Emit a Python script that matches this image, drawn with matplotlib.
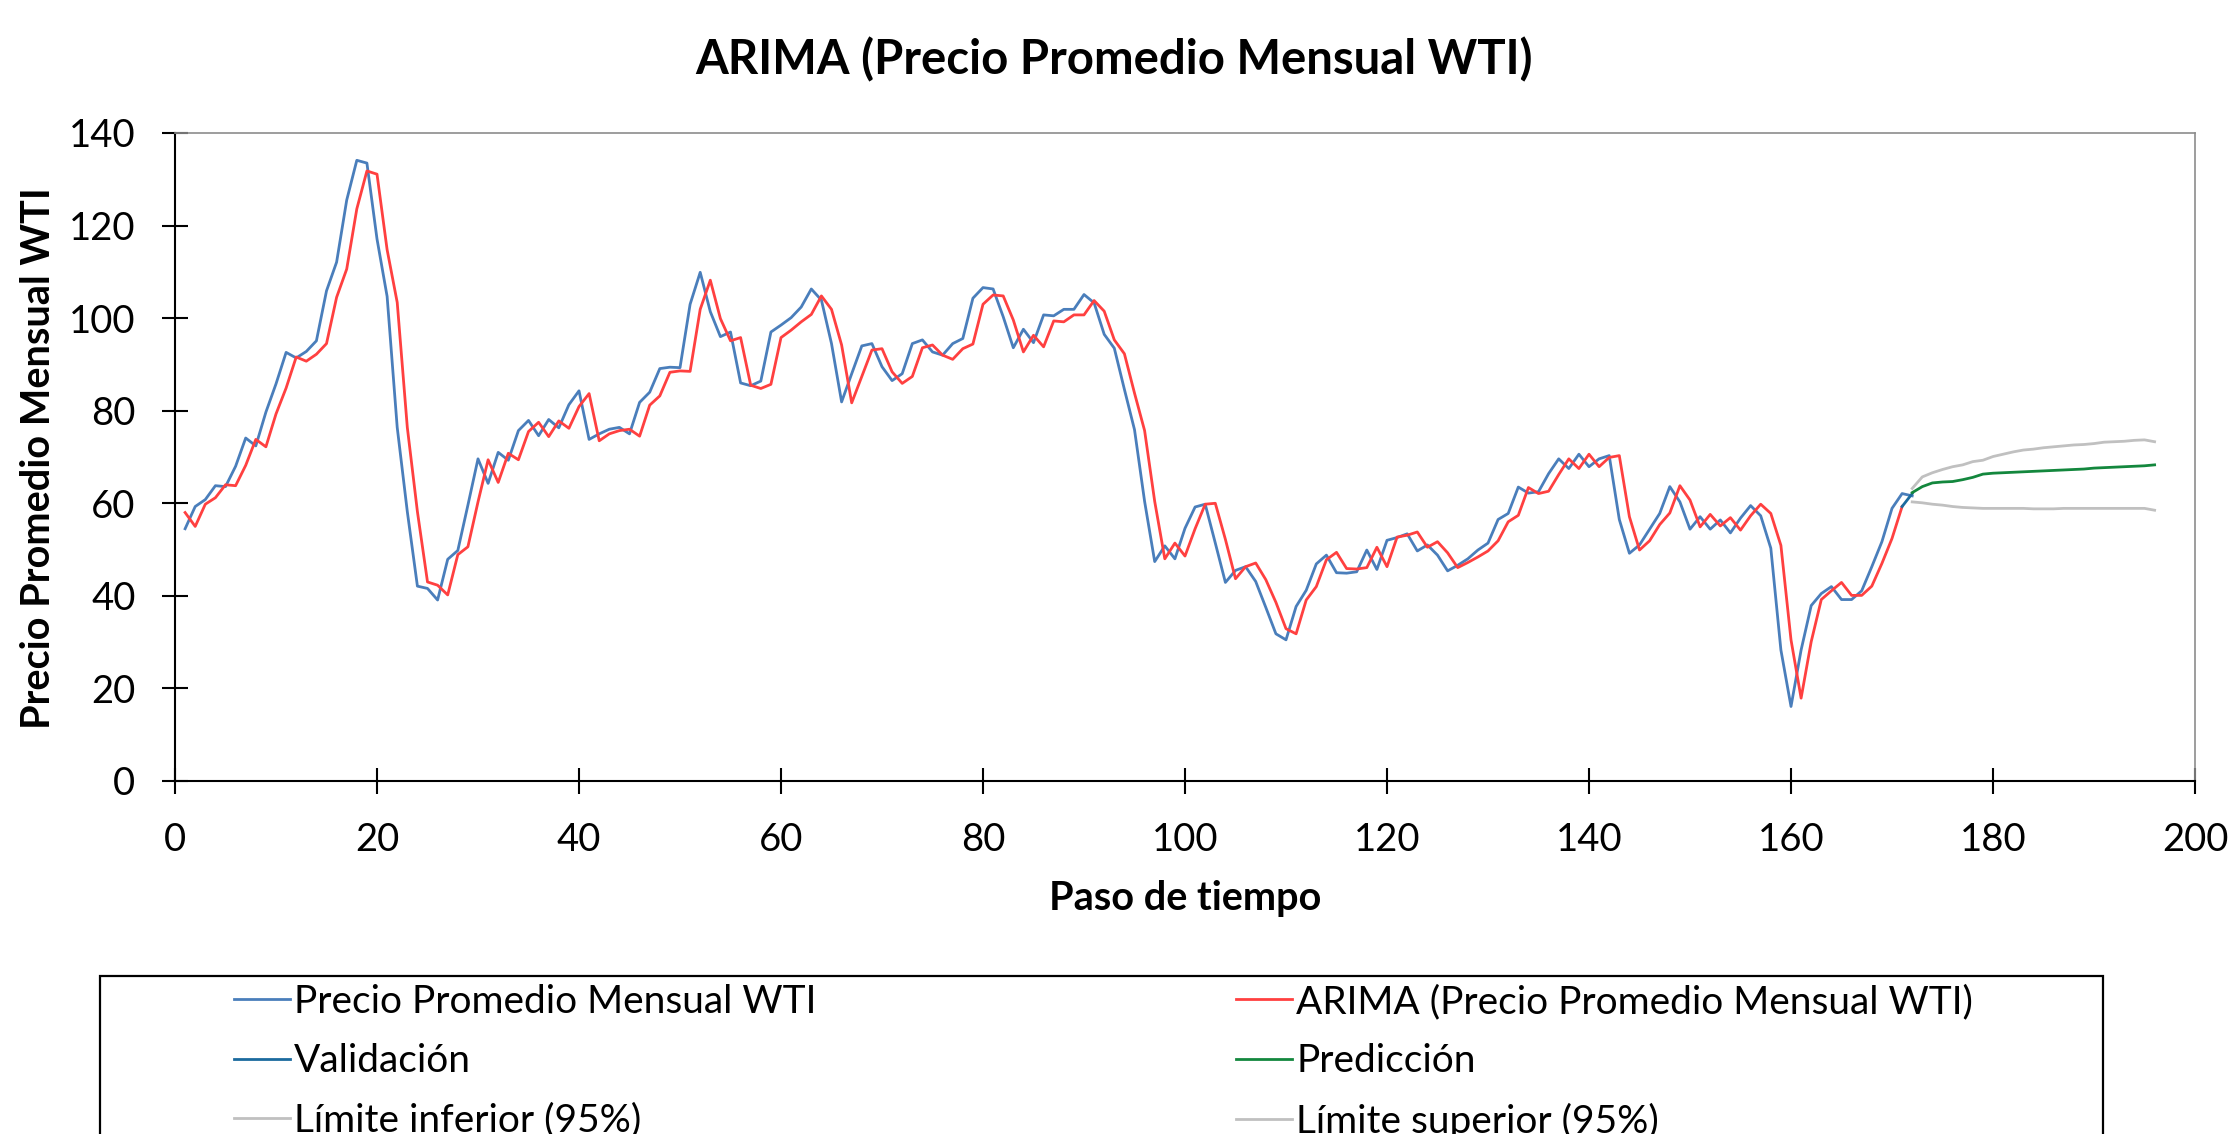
import numpy as np
import matplotlib.pyplot as plt
from matplotlib.patches import Rectangle

plt.rcParams['font.family'] = ['Lato', 'DejaVu Sans']

# ── datos ────────────────────────────────────────────────────────────
precio = [54.5, 59.3, 60.8, 63.8, 63.6, 68.0, 74.1, 72.4, 79.7, 85.8,
          92.6, 91.4, 92.8, 95.1, 105.9, 112.1, 125.5, 134.1, 133.5, 117.1,
          104.7, 76.4, 58.2, 42.1, 41.6, 39.1, 47.9, 49.8, 59.6, 69.6,
          64.3, 71.0, 69.3, 75.7, 77.9, 74.6, 78.1, 76.3, 81.3, 84.3,
          73.8, 75.0, 76.0, 76.4, 75.0, 81.8, 84.0, 89.1, 89.4, 89.3,
          103.0, 109.9, 101.4, 96.0, 97.0, 86.0, 85.4, 86.4, 97.0, 98.5,
          100.1, 102.4, 106.3, 103.9, 94.5, 81.9, 88.0, 94.0, 94.5, 89.5,
          86.5, 88.0, 94.5, 95.3, 92.7, 92.0, 94.5, 95.6, 104.3, 106.6,
          106.3, 100.3, 93.6, 97.6, 94.7, 100.7, 100.5, 101.9, 101.9, 105.1,
          103.3, 96.5, 93.5, 84.6, 75.9, 60.4, 47.4, 50.8, 48.0, 54.6,
          59.2, 59.8, 51.4, 42.9, 45.5, 46.3, 43.1, 37.5, 31.8, 30.5,
          37.7, 41.2, 46.9, 48.8, 45.0, 44.9, 45.2, 49.9, 45.7, 52.0,
          52.6, 53.4, 49.7, 51.0, 48.8, 45.4, 46.6, 48.0, 49.9, 51.4,
          56.5, 57.8, 63.5, 62.2, 62.5, 66.4, 69.6, 67.5, 70.6, 67.9,
          69.6, 70.3, 56.5, 49.2, 51.0, 54.4, 57.8, 63.6, 60.3, 54.4,
          57.1, 54.4, 56.4, 53.6, 56.8, 59.5, 57.3, 50.3, 28.3, 16.1,
          28.3, 37.9, 40.5, 42.0, 39.2, 39.2, 41.1, 46.3, 51.7, 58.9,
          62.1, 61.6]

arima = [58.0, 55.0, 59.8, 61.2, 64.0, 63.8, 68.2, 73.8, 72.2, 79.3,
         84.9, 91.6, 90.7, 92.2, 94.5, 104.5, 110.6, 123.6, 131.8, 131.1,
         114.8, 103.4, 76.4, 58.2, 43.0, 42.3, 40.2, 48.9, 50.6, 60.3,
         69.4, 64.5, 70.8, 69.4, 75.5, 77.5, 74.4, 77.8, 76.2, 80.9,
         83.7, 73.5, 75.0, 75.7, 76.0, 74.5, 81.2, 83.2, 88.3, 88.6,
         88.5, 101.9, 108.2, 99.9, 95.1, 95.8, 85.5, 84.8, 85.7, 95.8,
         97.4, 99.2, 100.8, 104.8, 101.9, 94.2, 81.7, 87.4, 93.1, 93.4,
         88.4, 85.9, 87.4, 93.6, 94.2, 92.0, 91.1, 93.4, 94.4, 103.0,
         105.0, 104.8, 99.6, 92.7, 96.3, 93.8, 99.4, 99.2, 100.7, 100.7,
         103.8, 101.5, 95.3, 92.3, 83.8, 75.7, 60.4, 48.0, 51.4, 48.6,
         54.5, 59.8, 60.0, 52.2, 43.7, 46.3, 47.1, 43.5, 38.6, 32.9,
         31.8, 39.1, 42.0, 47.8, 49.4, 45.9, 45.8, 46.1, 50.5, 46.3,
         52.7, 53.1, 53.8, 50.5, 51.7, 49.3, 46.1, 47.2, 48.4, 49.7,
         51.9, 56.0, 57.4, 63.4, 62.1, 62.6, 66.2, 69.6, 67.5, 70.6,
         67.9, 69.9, 70.3, 57.1, 49.9, 51.9, 55.4, 57.9, 63.8, 60.7,
         54.9, 57.6, 55.1, 56.9, 54.2, 57.3, 59.8, 57.8, 50.9, 30.5,
         17.9, 30.1, 39.2, 41.1, 42.9, 40.1, 40.1, 42.1, 47.0, 52.4,
         59.3]

validacion_x = [171, 172]
validacion = [59.3, 62.1]

pred_x = np.arange(172, 197)
prediccion = [62.3, 63.6, 64.4, 64.6, 64.7, 65.1, 65.6, 66.3, 66.5, 66.6,
              66.7, 66.8, 66.9, 67.0, 67.1, 67.2, 67.3, 67.4, 67.6, 67.7,
              67.8, 67.9, 68.0, 68.1, 68.3]
lim_inf = [60.3, 60.1, 59.8, 59.6, 59.3, 59.1, 59.0, 58.9, 58.9, 58.9,
           58.9, 58.9, 58.8, 58.8, 58.8, 58.9, 58.9, 58.9, 58.9, 58.9,
           58.9, 58.9, 58.9, 58.9, 58.5]
lim_sup = [63.2, 65.7, 66.6, 67.3, 67.9, 68.3, 69.0, 69.3, 70.1, 70.6,
           71.1, 71.5, 71.7, 72.0, 72.2, 72.4, 72.6, 72.7, 72.9, 73.2,
           73.3, 73.4, 73.6, 73.7, 73.3]

x_precio = np.arange(1, len(precio) + 1)
x_arima = np.arange(1, len(arima) + 1)

# ── figura ───────────────────────────────────────────────────────────
fig = plt.figure(figsize=(22.28, 11.34), dpi=100)
ax = fig.add_axes([0.07855, 0.31129, 0.90664, 0.57143])

lw = 2.0
l1, = ax.plot(x_precio, precio, color='#4A7EBB', lw=lw, label='Precio Promedio Mensual WTI')
l2, = ax.plot(x_arima, arima, color='#FF4040', lw=lw, label='ARIMA (Precio Promedio Mensual WTI)')
l3, = ax.plot(validacion_x, validacion, color='#1B6A9E', lw=lw, label='Validación')
l4, = ax.plot(pred_x, prediccion, color='#13873D', lw=lw, label='Predicción')
l5, = ax.plot(pred_x, lim_inf, color='#C0C0C0', lw=lw, label='Límite inferior (95%)')
l6, = ax.plot(pred_x, lim_sup, color='#C0C0C0', lw=lw, label='Límite superior (95%)')

ax.set_xlim(0, 200)
ax.set_ylim(0, 140)
ax.set_xticks(np.arange(0, 201, 20))
ax.set_yticks(np.arange(0, 141, 20))
ax.tick_params(direction='inout', length=19, width=1.5, labelsize=27.5, colors='black')
ax.tick_params(axis='y', pad=19)
ax.tick_params(axis='x', pad=20)

for s in ['left', 'bottom']:
    ax.spines[s].set_color('black')
    ax.spines[s].set_linewidth(1.5)
for s in ['top', 'right']:
    ax.spines[s].set_color('#8C8C8C')
    ax.spines[s].set_linewidth(1.2)

fig.text(0.5, 0.947, 'ARIMA (Precio Promedio Mensual WTI)', ha='center', va='center',
         fontsize=34, fontweight='bold')
fig.text(0.5319, 0.2081, 'Paso de tiempo', ha='center', va='center',
         fontsize=28.5, fontweight='bold')
fig.text(0.0171, 0.596, 'Precio Promedio Mensual WTI', ha='center', va='center',
         rotation=90, fontsize=28.5, fontweight='bold')

# ── leyenda (recuadro cortado por abajo, como en el original) ────────
fig.patches.append(Rectangle((100 / 2228, -0.1), 2003 / 2228, 0.1 + 1 - 976 / 1134,
                             transform=fig.transFigure, fill=False,
                             edgecolor='black', linewidth=1.6))

leg_kw = dict(loc='upper left', frameon=False, fontsize=28, handlelength=1.45,
              handletextpad=0.1, labelspacing=0.6, borderpad=0, borderaxespad=0)
fig.legend(handles=[l1, l3, l5], bbox_to_anchor=(234 / 2228, 1 - 984 / 1134), **leg_kw)
fig.legend(handles=[l2, l4, l6], bbox_to_anchor=(1236 / 2228, 1 - 984 / 1134), **leg_kw)

fig.savefig('out.png', dpi=100)
